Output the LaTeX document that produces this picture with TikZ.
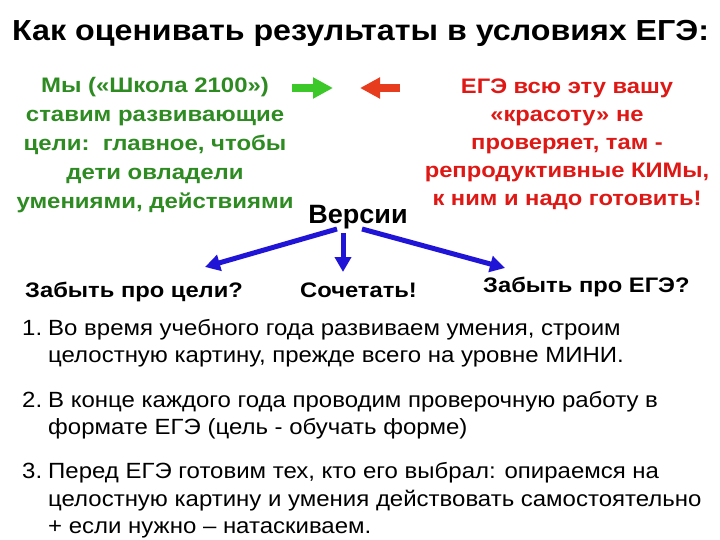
\documentclass[tikz,border=0pt]{standalone}
\usepackage{fontspec}
\setmainfont{Liberation Sans}
\usetikzlibrary{arrows.meta}
\definecolor{egreen}{RGB}{46,139,34}
\definecolor{ered}{RGB}{222,24,20}
\definecolor{ablue}{RGB}{32,20,215}
\definecolor{agreen}{RGB}{60,200,40}
\definecolor{ared}{RGB}{232,60,30}
\tikzset{
  lbl/.style={inner sep=0pt, anchor=base, transform shape},
  ttl/.style={lbl, anchor=base west, xscale=1.11, font=\fontsize{29}{34}\selectfont\bfseries},
  gtxt/.style={lbl, xscale=1.14, text=egreen, font=\fontsize{21}{24}\selectfont\bfseries},
  rtxt/.style={lbl, xscale=1.13, text=ered, font=\fontsize{21}{24}\selectfont\bfseries},
  btxt/.style={lbl, anchor=base west, xscale=1.13, font=\fontsize{21}{24}\selectfont\bfseries},
  ltxt/.style={lbl, anchor=base west, xscale=1.09, font=\fontsize{22}{26}\selectfont},
  barrow/.style={ablue, line width=5pt, -{Triangle[length=15pt,width=16pt]}},
}
\begin{document}
\begin{tikzpicture}[x=1pt,y=-1pt]
\useasboundingbox (0,0) rectangle (720,540);
% title
\node[ttl] (title) at (12,41) {Как оценивать результаты в условиях ЕГЭ:};
% green block
\node[gtxt] (g1) at (155,93) {Мы («Школа 2100»)};
\node[gtxt] (g2) at (155,122) {ставим развивающие};
\node[gtxt] (g3) at (155,151) {цели:\ \ главное, чтобы};
\node[gtxt] (g4) at (155,180) {дети овладели};
\node[gtxt] (g5) at (155,209) {умениями, действиями};
% red block
\node[rtxt] (r1) at (567,94) {ЕГЭ всю эту вашу};
\node[rtxt] (r2) at (567,122) {«красоту» не};
\node[rtxt] (r3) at (567,150) {проверяет, там -};
\node[rtxt] (r4) at (567,178) {репродуктивные КИМы,};
\node[rtxt] (r5) at (567,206) {к ним и надо готовить!};
% small arrows
\coordinate (ga) at (292,88);
\coordinate (gb) at (333,88);
\coordinate (ra) at (400,88);
\coordinate (rb) at (360,88);
\draw[agreen, line width=8pt, -{Triangle[length=20pt,width=20pt]}] (ga) -- (gb);
\draw[ared, line width=8pt, -{Triangle[length=20pt,width=20pt]}] (ra) -- (rb);
% versions
\node[lbl, xscale=1.02, font=\fontsize{26.5}{30}\selectfont\bfseries] (ver) at (358,224) {Версии};
\coordinate (vl) at (337,229);
\coordinate (vm) at (343,233);
\coordinate (vr) at (362,229);
\coordinate (tl) at (205,267);
\coordinate (tm) at (343,272);
\coordinate (tr) at (505,268);
\draw[barrow] (vl) -- (tl);
\draw[barrow] (vm) -- (tm);
\draw[barrow] (vr) -- (tr);
\node[btxt] (b1) at (25,297) {Забыть про цели?};
\node[btxt] (b2) at (300,297) {Сочетать!};
\node[btxt] (b3) at (483,292) {Забыть про ЕГЭ?};
% list
\node[ltxt] (n1) at (22,335) {1.};
\node[ltxt] (l1a) at (48,335) {Во время учебного года развиваем умения, строим};
\node[ltxt] (l1b) at (48,362) {целостную картину, прежде всего на уровне МИНИ.};
\node[ltxt] (n2) at (22,407) {2.};
\node[ltxt] (l2a) at (48,407) {В конце каждого года проводим проверочную работу в};
\node[ltxt] (l2b) at (48,434) {формате ЕГЭ (цель - обучать форме)};
\node[ltxt] (n3) at (22,478) {3.};
\node[ltxt] (l3a) at (48,478) {Перед ЕГЭ готовим тех, кто его выбрал: опираемся на};
\node[ltxt] (l3b) at (48,506) {целостную картину и умения действовать самостоятельно};
\node[ltxt] (l3c) at (48,533) {+ если нужно – натаскиваем.};
\end{tikzpicture}
\end{document}
